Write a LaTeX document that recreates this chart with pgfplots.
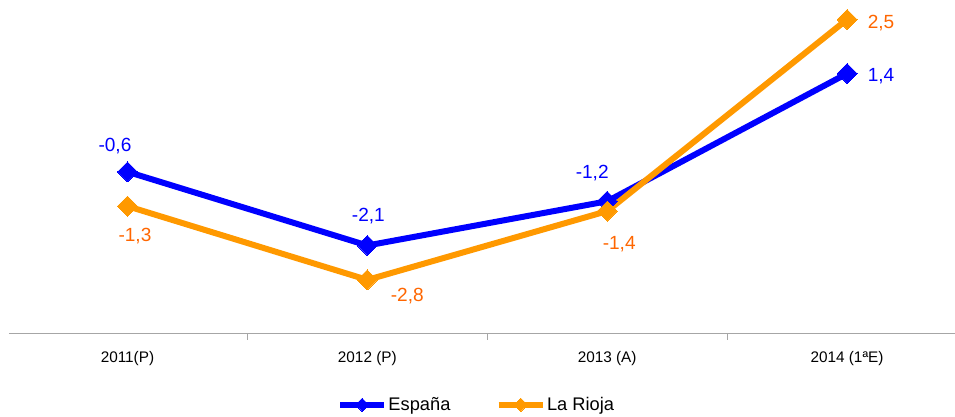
\documentclass[border=0pt]{standalone}
\usepackage{fontspec}
\setmainfont{Liberation Sans}
\usepackage{pgfplots}
\pgfplotsset{compat=1.18}
\usepackage{pgfplotstable}
\definecolor{espblue}{HTML}{0000FF}
\definecolor{riojaline}{HTML}{FF9900}
\definecolor{riojatext}{HTML}{FF6600}
\definecolor{axisgrey}{HTML}{A6A6A6}

\pgfplotstableread{
x y dx dy lab
0 -0.6 -9.4 15.1 -0,6
1 -2.1 0.75 17.9 -2,1
2 -1.2 -11.25 17 -1,2
3 1.4 25.5 -6.2 1,4
}\espana

\pgfplotstableread{
x y dx dy lab
0 -1.3 5.6 -26.6 -1,3
1 -2.8 30 -16.4 -2,8
2 -1.4 9 -29 -1,4
3 2.5 25.5 -7 2,5
}\rioja

\begin{document}
\begin{tikzpicture}
\begin{axis}[
  scale only axis,
  width=709.5pt, height=250.5pt,
  xmin=-0.494, xmax=3.448,
  ymin=-3.898, ymax=2.897,
  clip=false,
  axis x line*=bottom,
  axis y line=none,
  axis line style={-, axisgrey, line width=0.75pt},
  xtick={0,1,2,3},
  xticklabels={2011(P), 2012 (P), 2013 (A), 2014 (1ªE)},
  major tick length=0pt,
  minor xtick={-0.5,0.5,1.5,2.5},
  minor tick length=4.5pt,
  tick align=outside,
  tick style={axisgrey, line width=0.75pt},
  xticklabel style={anchor=base, yshift=-21.4pt, font=\fontsize{11.5}{12}\selectfont, text=black},
  legend style={at={(axis description cs:0.4942,-0.2126)}, anchor=center, draw=none, fill=none,
    font=\fontsize{13.7}{14}\selectfont, inner sep=0pt,
    /tikz/every even column/.append style={column sep=33pt},
    nodes={inner sep=1pt}},
  legend columns=2,
  legend cell align=left,
  legend image code/.code={
    \draw[#1, mark=none] (0pt,0pt)--(33pt,0pt);
    \draw[#1, mark size=3.5pt] plot coordinates {(16.5pt,0pt)};
  },
]
\addplot[espblue, line width=4.5pt, mark=square*, mark size=5.3pt,
  mark options={rotate=45, solid, line width=0pt, fill=espblue}]
  table[x=x,y=y] {\espana};
\addlegendentry{España}
\addplot[riojaline, line width=4.5pt, mark=square*, mark size=5.3pt,
  mark options={rotate=45, solid, line width=0pt, fill=riojaline}]
  table[x=x,y=y] {\rioja};
\addlegendentry{La Rioja}

\addplot[draw=none, mark=none, forget plot, nodes near coords, point meta=explicit symbolic,
  visualization depends on={\thisrow{dx}\as\dx},
  visualization depends on={\thisrow{dy}\as\dy},
  nodes near coords style={anchor=base, xshift=\dx pt, yshift=\dy pt, text=espblue,
    font=\fontsize{14.3}{15}\selectfont, inner sep=0pt}]
  table[x=x,y=y,meta=lab] {\espana};
\addplot[draw=none, mark=none, forget plot, nodes near coords, point meta=explicit symbolic,
  visualization depends on={\thisrow{dx}\as\dx},
  visualization depends on={\thisrow{dy}\as\dy},
  nodes near coords style={anchor=base, xshift=\dx pt, yshift=\dy pt, text=riojatext,
    font=\fontsize{14.3}{15}\selectfont, inner sep=0pt}]
  table[x=x,y=y,meta=lab] {\rioja};
\end{axis}
\path (-6.75pt,-62.25pt) rectangle (709.5pt,250.5pt);
\end{tikzpicture}
\end{document}
